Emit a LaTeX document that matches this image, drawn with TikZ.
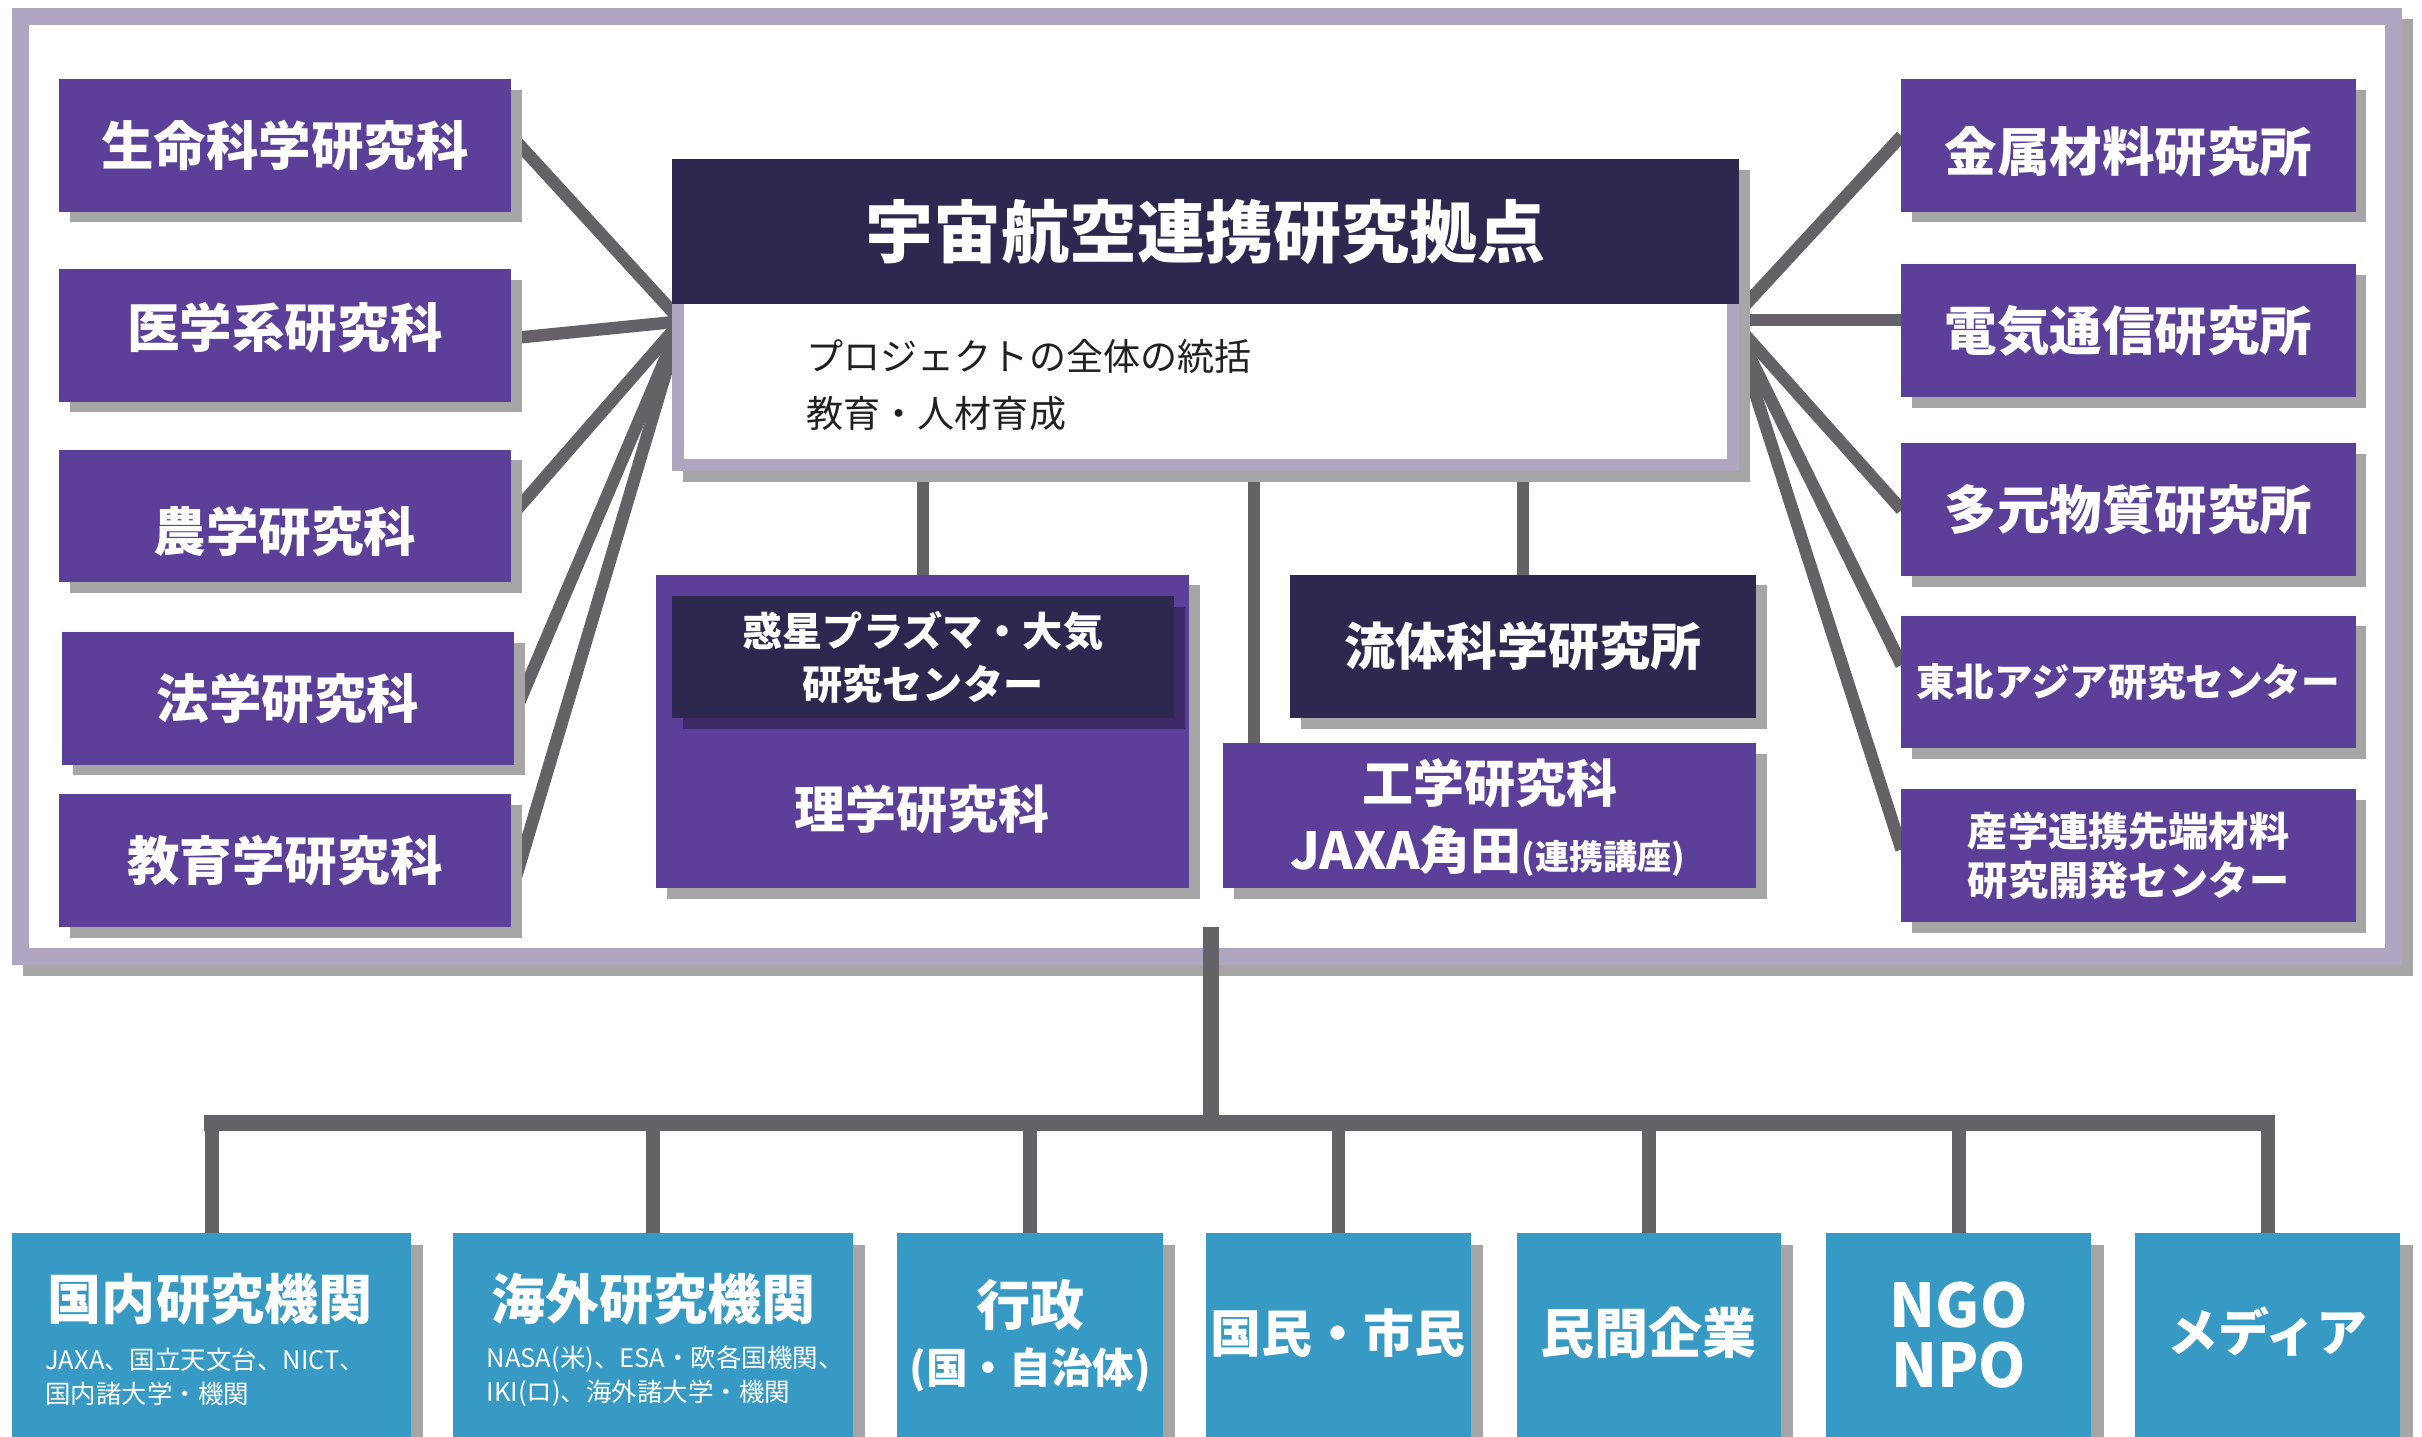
\documentclass[tikz,border=0pt]{standalone}
\usepackage{fontspec}
\setmainfont{Noto Sans CJK JP}
\usetikzlibrary{shadows}
\pgfdeclarelayer{framelayer}
\pgfdeclarelayer{linelayer}
\pgfsetlayers{framelayer,linelayer,main}
\definecolor{purp}{HTML}{5C3F98}
\definecolor{navyb}{HTML}{2C2850}
\definecolor{lav}{HTML}{AFA5C0}
\definecolor{shgray}{HTML}{A7A6A7}
\definecolor{lineg}{HTML}{646266}
\definecolor{tealb}{HTML}{379AC4}
\definecolor{dpurp}{HTML}{3E2968}
\definecolor{txt}{HTML}{231F20}
\newcommand\jsize[2]{\fontsize{#1}{#2}\selectfont\bfseries}
\newcommand\jreg[2]{\fontsize{#1}{#2}\selectfont}
\begin{document}
\begin{tikzpicture}[x=1pt,y=-1pt,
  shad/.style={drop shadow={shadow xshift=7pt,shadow yshift=-7pt,fill=shgray,opacity=1}},
  box/.style={rectangle,inner sep=0pt,outer sep=0pt,text=white,align=center},
  lbox/.style={box,fill=purp,shad,minimum width=293pt,minimum height=86pt,font=\jsize{34}{40}},
  rbox/.style={box,fill=purp,shad,minimum width=294pt,minimum height=86pt,font=\jsize{34}{40}},
  tbox/.style={box,fill=tealb,drop shadow={shadow xshift=8pt,shadow yshift=-8pt,fill=shgray,opacity=1},minimum height=132pt},
  wtext/.style={inner sep=0pt,text=white,align=center},
  conn/.style={draw=lineg,line width=8pt},
  busline/.style={draw=lineg,line width=10pt}
]
\useasboundingbox (0,0) rectangle (1568,930);

% outer frame
\begin{pgfonlayer}{framelayer}
  \fill[white] (0,0) rectangle (1568,930);
  \fill[shgray] (15,12) rectangle (1562,632);
  \fill[lav] (8,5) rectangle (1555,625);
  \fill[white] (19,16) rectangle (1544,614);
\end{pgfonlayer}

% left column
\node[lbox] (seimei) at (184.5,94) {生命科学研究科};
\node[lbox] (igaku)  at (184.5,217) {};
\node[wtext,font=\jsize{34}{40}] (igakuT) at (184.5,212) {医学系研究科};
\node[lbox] (nogaku) at (184.5,334) {};
\node[wtext,font=\jsize{34}{40}] (nogakuT) at (184.5,344) {農学研究科};
\node[lbox] (hogaku) at (186.5,452) {法学研究科};
\node[lbox] (kyoiku) at (184.5,557) {教育学研究科};

% right column
\node[rbox] (kinzoku) at (1378,94) {};
\node[wtext,font=\jsize{34}{40}] (kinzokuT) at (1378,98) {金属材料研究所};
\node[rbox] (denki)   at (1378,214) {電気通信研究所};
\node[rbox] (tagen)   at (1378,330) {多元物質研究所};
\node[rbox,font=\jsize{25}{30}] (tohoku) at (1378,441.5) {東北アジア研究センター};
\node[rbox,font=\jsize{26}{32}] (sangaku) at (1378,554) {産学連携先端材料\\研究開発センター};

% central hub
\node[box,fill=lav,shad,minimum width=691pt,minimum height=202pt] (hub) at (780.5,204) {};
\node[box,fill=navyb,minimum width=691pt,minimum height=94pt,font=\jsize{44}{50}] (title) at (780.5,150) {宇宙航空連携研究拠点};
\node[box,fill=white,minimum width=675pt,minimum height=100pt] (body) at (780.5,247) {};
\node[anchor=west,inner sep=0pt,text=txt,font=\jreg{24}{28}] (line1) at (522,231) {プロジェクトの全体の統括};
\node[anchor=west,inner sep=0pt,text=txt,font=\jreg{24}{28}] (line2) at (522,268) {教育・人材育成};

% middle boxes
\node[box,fill=purp,shad,minimum width=345pt,minimum height=203pt] (rigaku) at (597.5,473.5) {};
\node[box,fill=navyb,drop shadow={shadow xshift=7pt,shadow yshift=-7pt,fill=dpurp,opacity=1},minimum width=325pt,minimum height=79pt,font=\jsize{26}{34}] (wakusei) at (597.5,425.5) {惑星プラズマ・大気\\研究センター};
\node[wtext,font=\jsize{33}{40}] (rigakuT) at (597,524) {理学研究科};
\node[box,fill=navyb,shad,minimum width=302pt,minimum height=93pt,font=\jsize{33}{40}] (ryutai) at (986,418.5) {流体科学研究所};
\node[box,fill=purp,shad,minimum width=345pt,minimum height=94pt] (kogaku) at (964.5,528) {};
\node[wtext,font=\jsize{33}{40}] (kogakuT) at (964.5,507) {工学研究科};
\node[wtext,font=\jsize{33}{40}] (jaxaT) at (963,551) {JAXA角田{\jsize{22}{26}(連携講座)}};

% bottom boxes
\node[tbox,minimum width=258pt] (kokunai) at (137,864) {};
\node[tbox,minimum width=259pt] (kaigai) at (422.5,864) {};
\node[tbox,minimum width=172pt] (gyosei) at (667,864) {};
\node[tbox,minimum width=171pt] (kokumin) at (866.5,864) {};
\node[tbox,minimum width=171pt] (minkan) at (1067.5,864) {};
\node[tbox,minimum width=172pt] (ngo) at (1268,864) {};
\node[tbox,minimum width=172pt] (media) at (1468,864) {};

\node[wtext,font=\jsize{35}{40}] (kokunaiT) at (136,841) {国内研究機関};
\node[wtext,anchor=west,font=\jreg{16.5}{20}] (kokunai1) at (29,880) {JAXA、国立天文台、NICT、};
\node[wtext,anchor=west,font=\jreg{16.5}{20}] (kokunai2) at (29,902) {国内諸大学・機関};
\node[wtext,font=\jsize{35}{40}] (kaigaiT) at (423,841) {海外研究機関};
\node[wtext,anchor=west,font=\jreg{16.5}{20}] (kaigai1) at (315,880) {NASA(米)、ESA・欧各国機関、};
\node[wtext,anchor=west,font=\jreg{16.5}{20}] (kaigai2) at (315,902) {IKI(ロ)、海外諸大学・機関};
\node[wtext,font=\jsize{35}{40}] (gyoseiT) at (667,845) {行政};
\node[wtext,font=\jsize{27}{34}] (gyosei2) at (667,887) {(国・自治体)};
\node[wtext,font=\jsize{33}{40}] (kokuminT) at (866,863) {国民・市民};
\node[wtext,font=\jsize{35}{40}] (minkanT) at (1067,863) {民間企業};
\node[wtext,font=\jsize{39}{40}] (ngoT) at (1268,845) {NGO};
\node[wtext,font=\jsize{39}{40}] (npoT) at (1268,884) {NPO};
\node[wtext,font=\jsize{33}{40}] (mediaT) at (1468,862) {メディア};

% connectors
\coordinate (hubL) at (441,208);
\coordinate (hubR) at (1121,207);
\coordinate (kgtop) at ([xshift=20pt]kogaku.north west);
\coordinate (trunktop) at (784,600);
\coordinate (busmid) at (784,727);
\begin{pgfonlayer}{linelayer}
  \draw[conn] ([yshift=6pt]seimei.east) -- (hubL);
  \draw[conn] ([yshift=-2pt]igaku.east) -- (hubL);
  \draw[conn] (nogaku.east) -- (hubL);
  \draw[conn] ([yshift=-10pt]hogaku.east) -- (hubL);
  \draw[conn] ([yshift=-21pt]kyoiku.east) -- (hubL);
  \draw[conn] ([yshift=6pt]kinzoku.west) -- (hubR);
  \draw[conn] ([yshift=7pt]denki.west) -- (hubR);
  \draw[conn] (tagen.west) -- (hubR);
  \draw[conn] ([yshift=11pt]tohoku.west) -- (hubR);
  \draw[conn] ([yshift=4pt]sangaku.west) -- (hubR);
  \draw[conn] (rigaku.north) -- (rigaku.north |- hub.south);
  \draw[conn] (kgtop) -- (kgtop |- hub.south);
  \draw[conn] (ryutai.north) -- (ryutai.north |- hub.south);
  \draw[busline] (trunktop) -- (busmid);
  \draw[busline,line cap=rect] (kokunai.north |- busmid) -- (media.north |- busmid);
  \foreach \n in {kokunai,kaigai,gyosei,kokumin,minkan,ngo,media}
    \draw[conn,line width=9pt] (\n.north) -- (\n.north |- busmid);
\end{pgfonlayer}
\end{tikzpicture}
\end{document}
